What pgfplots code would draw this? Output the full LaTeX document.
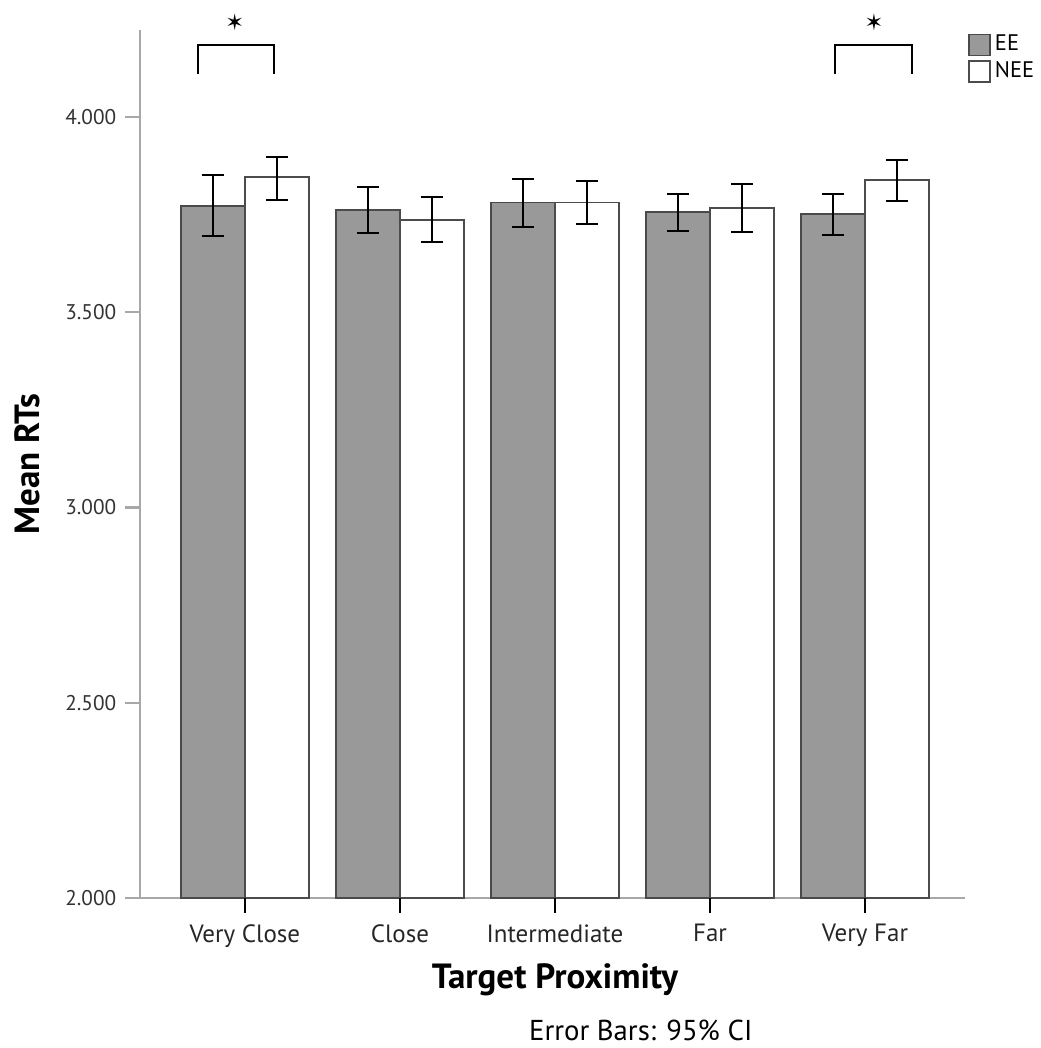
\documentclass[border=0pt]{standalone}
\usepackage{pgfplots}
\pgfplotsset{compat=1.18}
\usepackage{fontspec}
\setmainfont{PT Sans}
\newfontfamily\symfont{DejaVu Sans}
\definecolor{eegray}{HTML}{999999}
\definecolor{axgray}{HTML}{A8A8A8}
\definecolor{barline}{HTML}{4A4A4A}
\begin{document}
\begin{tikzpicture}
\begin{axis}[
  set layers,
  scale only axis,
  width=330pt, height=347.2pt,
  xmin=-0.677, xmax=4.645,
  ymin=2, ymax=4.223,
  axis x line*=bottom, axis y line*=left,
  axis line style={axgray, line width=0.8pt},
  ybar=0pt, bar width=25.6pt,
  xtick={0,1,2,3,4},
  xticklabels={Very Close,Close,Intermediate,Far,Very Far},
  ytick={2,2.5,3,3.5,4},
  yticklabels={2.000,2.500,3.000,3.500,4.000},
  xtick align=outside, ytick align=outside,
  major tick length=6pt,
  xticklabel style={font=\fontsize{10}{11}\selectfont, text=black!85, yshift=-1pt},
  yticklabel style={font=\fontsize{8.5}{10}\selectfont, text=black!80},
  ylabel={\bfseries Mean RTs},
  xlabel={\bfseries Target Proximity},
  label style={font=\fontsize{14}{16}\selectfont},
  ylabel style={at={(axis description cs:-0.137,0.5)}, anchor=center, rotate=0},
  xlabel style={at={(axis description cs:0.503,-0.094)}, anchor=center},
  legend style={at={(rel axis cs:1.0036,0.9965)}, anchor=north west, draw=none, fill=none,
    font=\fontsize{9}{10}\selectfont, inner sep=0pt, row sep=1.5pt,
    legend cell align=left,
    nodes={inner xsep=1.5pt, inner ysep=0pt}},
  legend image code/.code={\draw[#1, line width=0.7pt] (0pt,-4.2pt) rectangle (8.4pt,4.2pt);},
  clip=false,
  error bars/error bar style={black, line width=0.8pt},
  error bars/error mark options={black, line width=0.8pt, mark size=4.4pt, rotate=90},
]
\addplot[fill=eegray, draw=barline, line width=0.7pt,
  error bars/.cd, y dir=both, y explicit]
  table[x=x, y=y, y error plus=ep, y error minus=em] {
x y ep em
0 3.772 0.080 0.077
1 3.762 0.059 0.060
2 3.781 0.060 0.062
3 3.757 0.047 0.049
4 3.752 0.051 0.054
};
\addplot[fill=white, draw=black!70, line width=0.7pt,
  error bars/.cd, y dir=both, y explicit]
  table[x=x, y=y, y error plus=ep, y error minus=em] {
x y ep em
0 3.846 0.052 0.059
1 3.736 0.058 0.057
2 3.781 0.056 0.055
3 3.767 0.062 0.062
4 3.839 0.051 0.054
};
\legend{EE,NEE}
\begin{pgfonlayer}{axis foreground}
\draw[black, line width=0.8pt] (axis cs:0,2) -- ([yshift=-6pt]axis cs:0,2);
\draw[black, line width=0.8pt] (axis cs:1,2) -- ([yshift=-6pt]axis cs:1,2);
\draw[black, line width=0.8pt] (axis cs:2,2) -- ([yshift=-6pt]axis cs:2,2);
\draw[black, line width=0.8pt] (axis cs:3,2) -- ([yshift=-6pt]axis cs:3,2);
\draw[black, line width=0.8pt] (axis cs:4,2) -- ([yshift=-6pt]axis cs:4,2);
\draw[axgray, line width=0.9pt] (axis cs:-0.677,2) -- ([xshift=-6pt]axis cs:-0.677,2);
\draw[axgray, line width=0.9pt] (axis cs:-0.677,2.5) -- ([xshift=-6pt]axis cs:-0.677,2.5);
\draw[axgray, line width=0.9pt] (axis cs:-0.677,3) -- ([xshift=-6pt]axis cs:-0.677,3);
\draw[axgray, line width=0.9pt] (axis cs:-0.677,3.5) -- ([xshift=-6pt]axis cs:-0.677,3.5);
\draw[axgray, line width=0.9pt] (axis cs:-0.677,4) -- ([xshift=-6pt]axis cs:-0.677,4);
\end{pgfonlayer}
\draw[black, line width=0.8pt] (axis cs:-0.303,4.110) -- (axis cs:-0.303,4.184) -- (axis cs:0.187,4.184) -- (axis cs:0.187,4.110);
\draw[black, line width=0.8pt] (axis cs:3.806,4.110) -- (axis cs:3.806,4.184) -- (axis cs:4.303,4.184) -- (axis cs:4.303,4.110);
\node[font=\symfont\fontsize{9}{9}\selectfont] at (axis cs:-0.065,4.243) {✶};
\node[font=\symfont\fontsize{9}{9}\selectfont] at (axis cs:4.058,4.243) {✶};
\node[font=\fontsize{11.5}{12}\selectfont, anchor=center] at ([yshift=-52.8pt]rel axis cs:0.607,0) {Error Bars: 95\% CI};
\coordinate (sw) at (rel axis cs:0,0);
\end{axis}
\pgfresetboundingbox
\path[use as bounding box] ([shift={(-56pt,-60pt)}]sw) rectangle ++(416.4pt,419.2pt);
\end{tikzpicture}
\end{document}
